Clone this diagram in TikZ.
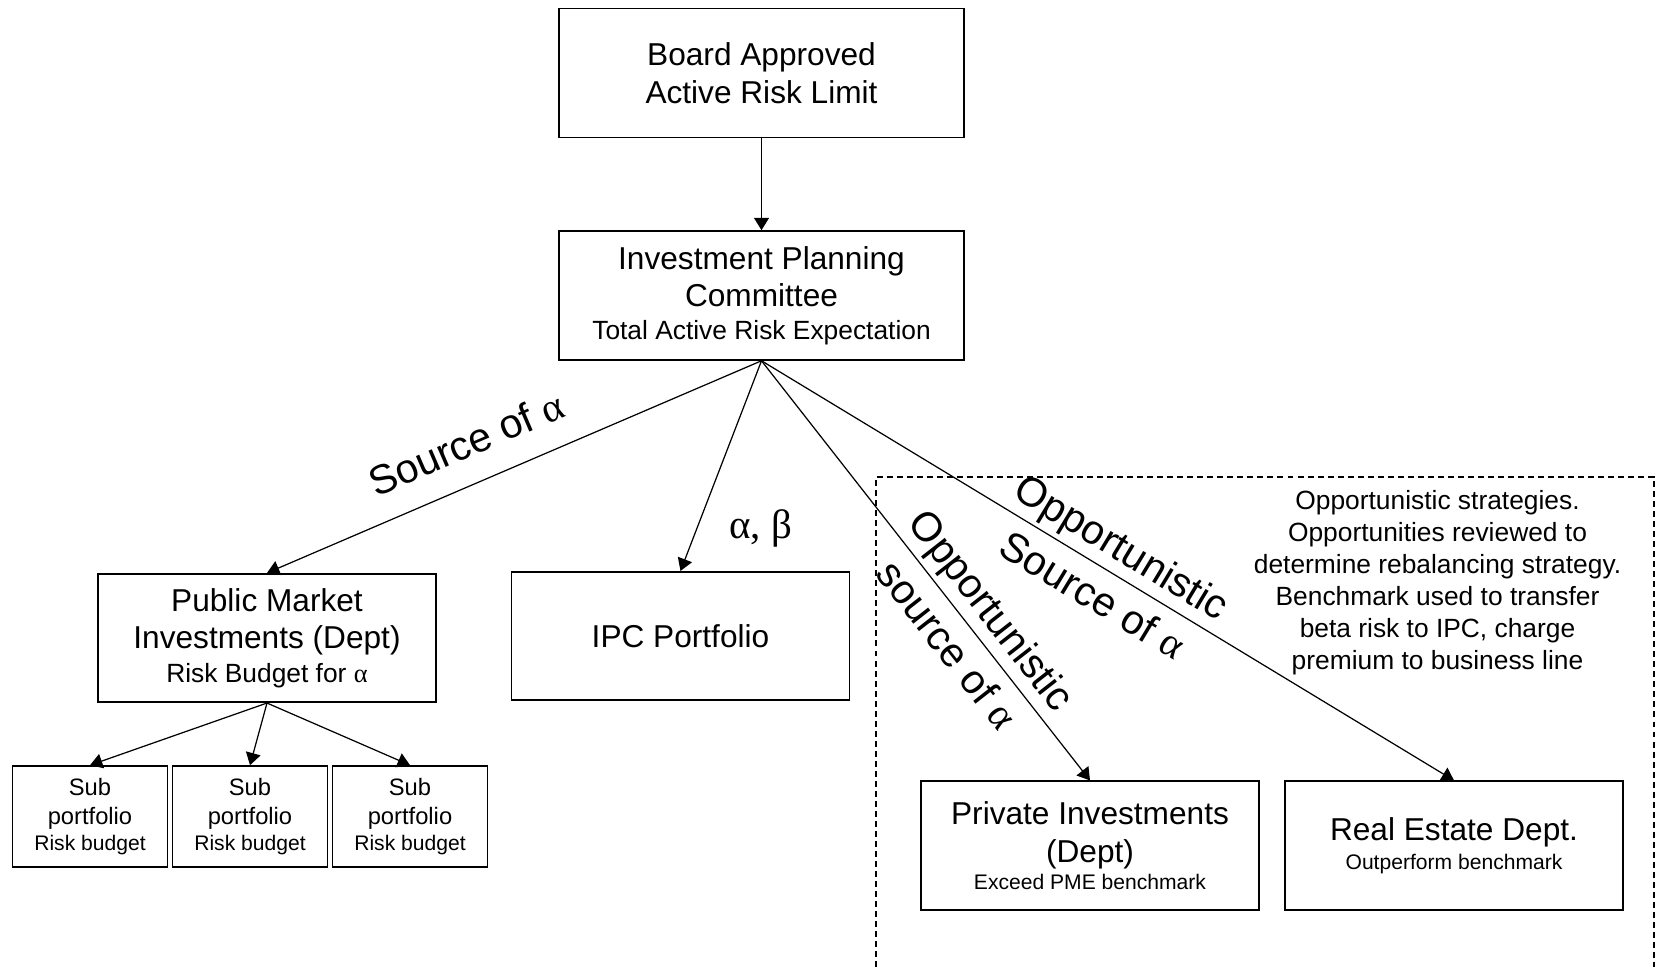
\documentclass[tikz,border=0pt]{standalone}
\usepackage{fontspec}
\setmainfont{Liberation Sans}
\newfontfamily\grk{Liberation Serif}
\usetikzlibrary{arrows.meta}

\newcommand\bigtxt{\fontsize{18}{21.5}\selectfont}
\newcommand\midtxt{\fontsize{15}{18.2}\selectfont}
\newcommand\subtxt{\fontsize{13.5}{16.5}\selectfont}
\newcommand\smltxt{\fontsize{12}{14}\selectfont}
\newcommand\lbltxt{\fontsize{23.3}{32}\selectfont}
\newcommand\alp{{\grk α}}

\tikzset{
 topbox/.style={draw,line width=.9pt,minimum width=8.1cm,minimum height=2.58cm,
   align=center,inner sep=2pt,font=\bigtxt},
 deptbox/.style={topbox,minimum width=6.76cm,minimum height=2.57cm},
 subbox/.style={draw,line width=.9pt,minimum width=3.1cm,minimum height=2.02cm,
   align=center,inner sep=1pt,font=\subtxt},
 link/.style={line width=.7pt,-{Triangle[length=7pt,width=8.5pt]}},
 lbl/.style={font=\lbltxt},
}

\begin{document}
\begin{tikzpicture}[x=1cm,y=1cm]
 \useasboundingbox (0,0) rectangle (33.12,19.34);
 \node[topbox] (board) at (15.23,17.88) {Board Approved\\Active Risk Limit};
 \node[topbox] (ipc) at (15.23,13.43) {Investment Planning\\Committee\\[-3pt]{\midtxt Total Active Risk Expectation}};
 \node[deptbox] (pmi) at (5.34,6.58) {Public Market\\Investments (Dept)\\[-2.5pt]{\midtxt Risk Budget for \alp}};
 \node[deptbox] (port) at (13.61,6.62) {IPC Portfolio};
 \node[deptbox] (pi) at (21.8,2.43) {Private Investments\\(Dept)\\[-6pt]{\smltxt Exceed PME benchmark}};
 \node[deptbox] (re) at (29.08,2.43) {Real Estate Dept.\\[-5pt]{\smltxt Outperform benchmark}};
 \foreach \i/\x in {1/1.8,2/5.0,3/8.2}
  \node[subbox] (sub\i) at (\x,3.01) {Sub\\portfolio\\[-2pt]{\smltxt Risk budget}};
 % opportunistic zone
 \draw[line width=.7pt,dash pattern=on 3.4pt off 2.3pt] (17.52,0)--(17.52,9.8)--(33.08,9.8)--(33.08,0);
 \node[font=\midtxt,align=center] (note) at (28.75,7.68) {Opportunistic strategies.\\Opportunities reviewed to\\determine rebalancing strategy.\\Benchmark used to transfer\\beta risk to IPC, charge\\premium to business line};
 % links
 \draw[link] (board)--(ipc);
 \draw[link] (ipc.south)--node[lbl,sloped,above=11pt,pos=.565]{Source of \alp}(pmi.north);
 \draw[link] (ipc.south)--node[lbl,pos=.8,right=15pt]{{\grk α, β}}(port.north);
 \draw[link] (ipc.south)--node[lbl,sloped,pos=.635,align=center]{Opportunistic\\source of \alp}(pi.north);
 \draw[link] (ipc.south)--node[lbl,sloped,pos=.5,align=center]{Opportunistic\\Source of \alp}(re.north);
 \foreach \i in {1,2,3}
  \draw[link] (pmi.south)--(sub\i.north);
\end{tikzpicture}
\end{document}
